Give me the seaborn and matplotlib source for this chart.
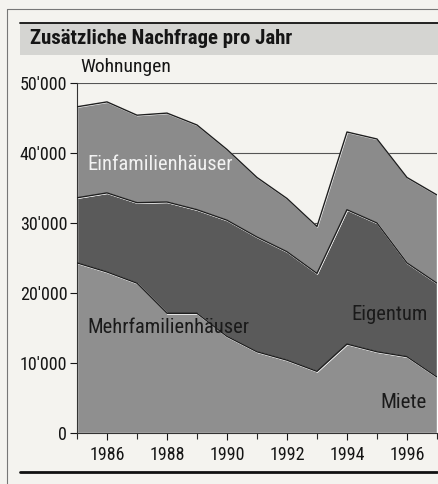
import numpy as np
import matplotlib
matplotlib.use("Agg")
import matplotlib.pyplot as plt
from matplotlib.lines import Line2D
from matplotlib.patches import Rectangle
from matplotlib.ticker import FuncFormatter, MultipleLocator
import seaborn as sns

# data (Wohnungen pro Jahr)
years = [1985, 1986, 1987, 1988, 1989, 1990, 1991, 1992, 1993, 1994, 1995, 1996, 1997]
miete = [24300, 23000, 21400, 17100, 17100, 13800, 11600, 10400, 8800, 12700, 11600, 10900, 8000]
eigentum = [9300, 11300, 11500, 15900, 14800, 16600, 16400, 15500, 14000, 19200, 18400, 13400, 13400]
einfamilien = [13000, 13000, 12500, 12700, 12100, 10100, 8500, 7600, 6700, 11100, 12000, 12200, 12600]
year_ticks = [1986, 1988, 1990, 1992, 1994, 1996]
y_ticks = [0, 10000, 20000, 30000, 40000, 50000]

sns.set_style("ticks")
plt.rcParams['font.family'] = ['Roboto Condensed', 'Roboto', 'DejaVu Sans']

paper = '#f4f3ef'
fig = plt.figure(figsize=(4.39, 4.84), dpi=100, facecolor=paper)
W, H = 439, 484

# frame, title band and bottom rule
fig.add_artist(Line2D([7 / W, 7 / W], [0, 1 - 9 / H], color='#777777', lw=0.8))
fig.add_artist(Line2D([7 / W, 1], [1 - 9 / H, 1 - 9 / H], color='#777777', lw=0.8))
fig.add_artist(Rectangle((20 / W, 1 - 55 / H), 1 - 20 / W, 32 / H, facecolor='#d5d5d2', edgecolor='none'))
fig.add_artist(Line2D([20 / W, 1], [1 - 23 / H, 1 - 23 / H], color='#111111', lw=1.3))
fig.add_artist(Line2D([20 / W, 437 / W], [1 - 472 / H, 1 - 472 / H], color='#111111', lw=2.0))
fig.text(30 / W, 1 - 39 / H, 'Zusätzliche Nachfrage pro Jahr', fontsize=15, fontweight='bold',
         color='#151515', va='center', ha='left')

ax = fig.add_axes([77 / W, 1 - 433 / H, (437 - 77) / W, 350 / H])
ax.set_facecolor('none')

# stacked areas
ax.stackplot(years, miete, eigentum, einfamilien,
             colors=['#8f8f8f', '#5a5a5a', '#8b8b8b'], zorder=2)
cum1 = np.array(miete)
cum2 = cum1 + np.array(eigentum)
cum3 = cum2 + np.array(einfamilien)
for cum in [cum1, cum2, cum3]:
    sns.lineplot(x=years, y=cum, color='#1e1e1e', lw=1.0, ax=ax, zorder=3)

# grid lines behind the areas
for yv in y_ticks[1:]:
    ax.axhline(yv, color='#555555', lw=0.8, zorder=1)

ax.set_xlim(1985, 1997)
ax.set_ylim(0, 50000)
ax.set_xticks(year_ticks)
ax.xaxis.set_minor_locator(MultipleLocator(1))
ax.set_yticks(y_ticks)
ax.yaxis.set_major_formatter(FuncFormatter(lambda v, p: f"{int(v):,}".replace(',', "'")))
ax.tick_params(axis='both', labelsize=13, colors='#151515', length=5, width=0.8, direction='out')
ax.tick_params(axis='x', which='minor', length=4, width=0.8)
ax.tick_params(axis='x', pad=4)
ax.tick_params(axis='y', pad=2)
sns.despine(ax=ax, top=True, right=True)
ax.spines['left'].set_color('#333333')
ax.spines['bottom'].set_color('#333333')
ax.spines['left'].set_linewidth(0.8)
ax.spines['bottom'].set_linewidth(0.8)
ax.set_xlabel('')
ax.set_ylabel('')

fig.text(80 / W, 1 - 67 / H, 'Wohnungen', fontsize=14, color='#151515', va='center', ha='left')

# area labels
ax.text(1985.33, 38400, 'Einfamilienhäuser', fontsize=14.8, color='#f2f2f2', va='center', ha='left', zorder=4)
ax.text(1985.33, 15000, 'Mehrfamilienhäuser', fontsize=14.8, color='#1a1a1a', va='center', ha='left', zorder=4)
ax.text(1996.7, 16900, 'Eigentum', fontsize=14.8, color='#1a1a1a', va='center', ha='right', zorder=4)
ax.text(1996.65, 4400, 'Miete', fontsize=15, color='#1a1a1a', va='center', ha='right', zorder=4)

fig.savefig('out.png', dpi=100, facecolor=paper)
